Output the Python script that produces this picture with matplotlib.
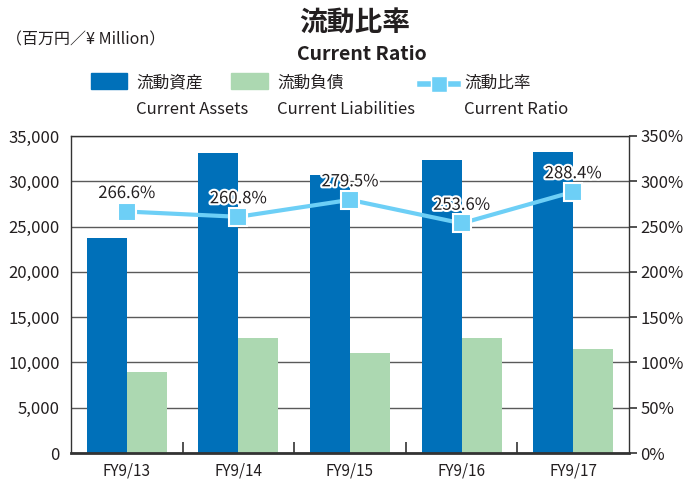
import matplotlib
matplotlib.use("Agg")
import matplotlib.pyplot as plt
import matplotlib.patheffects as pe
from matplotlib.patches import Rectangle
from matplotlib.lines import Line2D
import numpy as np

plt.rcParams['font.family'] = ['Noto Sans CJK JP', 'DejaVu Sans']

categories = ["FY9/13", "FY9/14", "FY9/15", "FY9/16", "FY9/17"]
current_assets = [23750, 33120, 30700, 32350, 33230]
current_liabilities = [8940, 12700, 11040, 12700, 11480]
current_ratio = [266.6, 260.8, 279.5, 253.6, 288.4]
ratio_labels = ["266.6%", "260.8%", "279.5%", "253.6%", "288.4%"]

BLUE = "#0070b9"
GREEN = "#acd8b1"
LINE = "#6dcff6"
TEXT = "#231f20"
GRID = "#5a5a5a"

W, H = 697, 482
fig = plt.figure(figsize=(W / 100, H / 100), dpi=100)
ax = fig.add_axes([71 / W, 1 - 453 / H, (629 - 71) / W, (453 - 136) / H])

x = np.arange(len(categories))
bw = 0.358
ax.bar(x - bw / 2, current_assets, width=bw, color=BLUE, zorder=2)
ax.bar(x + bw / 2, current_liabilities, width=bw, color=GREEN, zorder=2)

ax.set_xlim(-0.5, len(categories) - 0.5)
ax.set_ylim(0, 35000)
ax.set_yticks(np.arange(0, 35001, 5000))
ax.set_yticklabels([f"{v:,}" for v in range(0, 35001, 5000)], fontsize=12, color=TEXT)
ax.set_xticks(x)
ax.set_xticklabels(categories, fontsize=11, color=TEXT)
ax.tick_params(axis='x', length=0, pad=7)
ax.set_xticks(np.arange(0.5, len(categories) - 0.5, 1), minor=True)
ax.tick_params(axis='x', which='minor', direction='in', length=8, width=1.2, color="#333333")
ax.tick_params(axis='y', length=0, pad=8)
ax.grid(axis='y', color=GRID, linewidth=1.0, zorder=0)
ax.set_axisbelow(True)
for s in ['left', 'top', 'right']:
    ax.spines[s].set_color("#333333")
    ax.spines[s].set_linewidth(1.0)
ax.spines['bottom'].set_color("#333333")
ax.spines['bottom'].set_linewidth(2.0)

ax2 = ax.twinx()
ax2.set_ylim(0, 350)
ax2.set_yticks(np.arange(0, 351, 50))
ax2.set_yticklabels([f"{v}%" for v in range(0, 351, 50)], fontsize=12, color=TEXT)
ax2.tick_params(axis='y', direction='out', length=6, width=1.2, color="#333333", pad=2)
for s in ax2.spines.values():
    s.set_visible(False)

ax2.plot(x, current_ratio, color=LINE, linewidth=3, marker='s', markersize=13,
         markerfacecolor=LINE, markeredgecolor='white', markeredgewidth=1.5, zorder=5)
for xi, yi, lab in zip(x, current_ratio, ratio_labels):
    ax2.annotate(lab, (xi, yi), xytext=(0, 13), textcoords='offset points',
                 ha='center', va='center', fontsize=12, color=TEXT, zorder=6,
                 path_effects=[pe.withStroke(linewidth=3, foreground='white')])

# Titles
fig.text(355 / W, 1 - 24 / H, "流動比率", ha='center', va='center', fontsize=20,
         fontweight='bold', color=TEXT)
fig.text(362 / W, 1 - 54 / H, "Current Ratio", ha='center', va='center', fontsize=14,
         fontweight='bold', color=TEXT)
fig.text(6 / W, 1 - 40 / H, "（百万円／¥ Million）", ha='left', va='center', fontsize=11.5,
         color=TEXT)

# Legend
def rect(x0, x1, y0, y1, color):
    fig.patches.append(Rectangle((x0 / W, 1 - y1 / H), (x1 - x0) / W, (y1 - y0) / H,
                                 transform=fig.transFigure, color=color, figure=fig))

rect(91, 127, 73, 89, BLUE)
rect(231, 268, 73, 89, GREEN)
fig.lines.append(Line2D([420 / W, 430 / W], [1 - 84 / H] * 2, color=LINE, linewidth=4,
                        transform=fig.transFigure, figure=fig))
fig.lines.append(Line2D([448 / W, 458 / W], [1 - 84 / H] * 2, color=LINE, linewidth=4,
                        transform=fig.transFigure, figure=fig))
fig.lines.append(Line2D([439 / W], [1 - 84 / H], marker='s', markersize=11, color=LINE,
                        markerfacecolor=LINE, markeredgecolor='white', linestyle='none',
                        transform=fig.transFigure, figure=fig))
for tx, jp, en in [(136, "流動資産", "Current Assets"),
                   (277, "流動負債", "Current Liabilities"),
                   (464, "流動比率", "Current Ratio")]:
    fig.text(tx / W, 1 - 83 / H, jp, ha='left', va='center', fontsize=12, color=TEXT)
    fig.text(tx / W, 1 - 110 / H, en, ha='left', va='center', fontsize=12, color=TEXT)

fig.savefig("out.png", dpi=100)
